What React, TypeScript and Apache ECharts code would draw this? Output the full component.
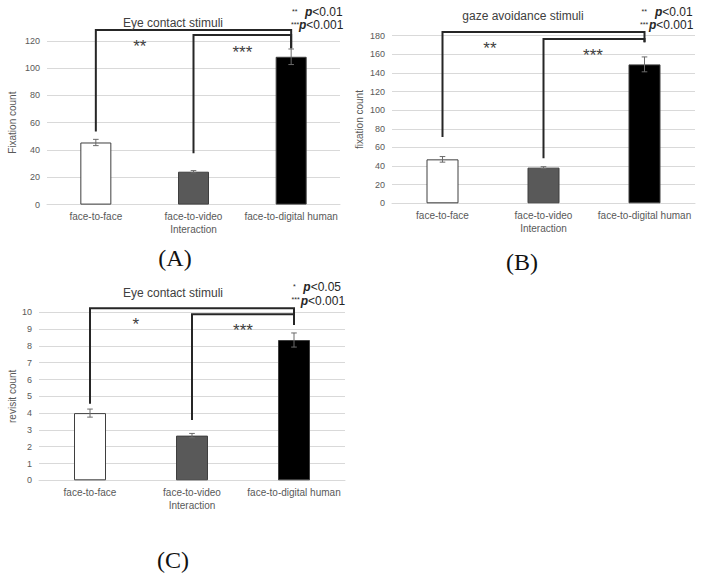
import React, { useEffect, useRef } from "react";
import * as echarts from "echarts";

// ---------- data ----------
const categories = ["face-to-face", "face-to-video", "face-to-digital human"];
const barColors = ["#ffffff", "#595959", "#000000"];

// (A) Eye contact stimuli – fixation count
const fixationEyeMean = [45.5, 24.1, 108.3];
const fixationEyeErr = [2.3, 0.8, 5.7];
// (B) gaze avoidance stimuli – fixation count
const fixationGazeMean = [47.2, 38.3, 149.2];
const fixationGazeErr = [3.0, 1.0, 8.0];
// (C) Eye contact stimuli – revisit count
const revisitEyeMean = [4.0, 2.66, 8.35];
const revisitEyeErr = [0.24, 0.13, 0.42];

// significance brackets: [fromCategory, toCategory, topValue, fromEndValue, toEndValue]
const bracketsA = [
  [0, 2, 128, 53.5, 114.5],
  [1, 2, 124.2, 37.6, 114.5],
];
const bracketsB = [
  [0, 2, 184, 71.2, 173],
  [1, 2, 176.4, 48.3, 173],
];
const bracketsC = [
  [0, 2, 10.24, 4.55, 9.24],
  [1, 2, 9.88, 3.59, 9.24],
];
// significance stars: [categoryPosition, value, label]
const starsA: [number, number, string][] = [
  [0.45, 119, "**"],
  [1.5, 114, "***"],
];
const starsB: [number, number, string][] = [
  [0.47, 171, "**"],
  [1.49, 162.5, "***"],
];
const starsC: [number, number, string][] = [
  [0.45, 9.54, "*"],
  [1.5, 9.14, "***"],
];

const FONT = "Liberation Sans";
const GRID_COLOR = "#d9d9d9";
const LABEL_COLOR = "#595959";

function bracketRender(params: any, api: any) {
  const from = api.value(0);
  const to = api.value(1);
  const top = api.value(2);
  const fromEnd = api.value(3);
  const toEnd = api.value(4);
  const a = api.coord([from, fromEnd]);
  const b = api.coord([from, top]);
  const c = api.coord([to, top]);
  const d = api.coord([to, toEnd]);
  return {
    type: "polyline",
    shape: { points: [a, b, c, d] },
    style: { stroke: "#262626", lineWidth: 2, fill: "none" },
  };
}

function errorRender(params: any, api: any) {
  const x = api.value(0);
  const m = api.value(1);
  const e = api.value(2);
  const hi = api.coord([x, m + e]);
  const lo = api.coord([x, m - e]);
  const cap = 2.8;
  const st = { stroke: "#6b6b6b", lineWidth: 1 };
  return {
    type: "group",
    children: [
      { type: "line", shape: { x1: hi[0], y1: hi[1], x2: lo[0], y2: lo[1] }, style: st },
      { type: "line", shape: { x1: hi[0] - cap, y1: hi[1], x2: hi[0] + cap, y2: hi[1] }, style: st },
      { type: "line", shape: { x1: lo[0] - cap, y1: lo[1], x2: lo[0] + cap, y2: lo[1] }, style: st },
    ],
  };
}

function starRender(params: any, api: any) {
  const pos = api.value(0);
  const val = api.value(1);
  const base = Math.floor(pos);
  const f = pos - base;
  const c0 = api.coord([base, val]);
  const c1 = api.coord([base + 1, val]);
  const x = c0[0] + (c1[0] - c0[0]) * f;
  return {
    type: "text",
    x,
    y: c0[1] + 4,
    style: {
      text: api.value(2),
      fontSize: 17,
      fontFamily: FONT,
      fill: "#404040",
      align: "center",
      verticalAlign: "middle",
    },
  };
}

function panel(
  idx: number,
  means: number[],
  errs: number[],
  brackets: number[][],
  stars: [number, number, string][],
  yName: string,
  yMax: number,
  yInterval: number,
  nameGapY: number,
  barWidth: number
) {
  const xAxis = {
    type: "category",
    gridIndex: idx,
    data: categories,
    axisTick: { show: false },
    axisLine: { lineStyle: { color: GRID_COLOR, width: 1 } },
    axisLabel: { fontSize: 10, color: LABEL_COLOR, fontFamily: FONT, margin: 7, interval: 0 },
    name: "Interaction",
    nameLocation: "middle",
    nameGap: 20,
    nameTextStyle: { fontSize: 10, color: LABEL_COLOR, fontFamily: FONT },
  };
  const yAxis = {
    type: "value",
    gridIndex: idx,
    min: 0,
    max: yMax,
    interval: yInterval,
    axisLine: { show: false },
    axisTick: { show: false },
    splitLine: { lineStyle: { color: GRID_COLOR, width: 1 } },
    axisLabel: { fontSize: 9, color: LABEL_COLOR, fontFamily: FONT, margin: 7 },
    name: yName,
    nameLocation: "middle",
    nameGap: nameGapY,
    nameTextStyle: { fontSize: 10, color: LABEL_COLOR, fontFamily: FONT },
  };
  const series = [
    {
      type: "bar",
      xAxisIndex: idx,
      yAxisIndex: idx,
      barWidth,
      data: means.map((v, i) => ({
        value: v,
        itemStyle: { color: barColors[i], borderColor: "#3f3f3f", borderWidth: 1 },
      })),
      z: 2,
    },
    {
      type: "custom",
      xAxisIndex: idx,
      yAxisIndex: idx,
      renderItem: errorRender,
      data: means.map((v, i) => [i, v, errs[i]]),
      encode: { x: 0, y: 1 },
      z: 3,
    },
    {
      type: "custom",
      xAxisIndex: idx,
      yAxisIndex: idx,
      renderItem: bracketRender,
      data: brackets,
      encode: { x: [0, 1], y: [2] },
      clip: false,
      z: 4,
    },
    {
      type: "custom",
      xAxisIndex: idx,
      yAxisIndex: idx,
      renderItem: starRender,
      data: stars,
      encode: { x: 0, y: 1 },
      clip: false,
      z: 4,
    },
  ];
  return { xAxis, yAxis, series };
}

function legendTexts(xStar1: number, xP1: number, y1: number, star1: string, p1: string, xStar2: number, xP2: number, y2: number) {
  const rich = {
    p: { fontStyle: "italic", fontWeight: "bold", fontSize: 12, fontFamily: FONT, fill: "#262626" },
    r: { fontSize: 12, fontFamily: FONT, fill: "#262626" },
  };
  return [
    { type: "text", x: xStar1, y: y1 - 1, style: { text: star1, fontSize: 7, fontFamily: FONT, fill: "#262626", verticalAlign: "middle" } },
    { type: "text", x: xP1, y: y1, style: { text: "{p|p}{r|" + p1 + "}", rich, verticalAlign: "middle" } },
    { type: "text", x: xStar2, y: y2 - 1, style: { text: "***", fontSize: 7, fontFamily: FONT, fill: "#262626", verticalAlign: "middle" } },
    { type: "text", x: xP2, y: y2, style: { text: "{p|p}{r|<0.001}", rich, verticalAlign: "middle" } },
  ];
}

export default function App() {
  const ref = useRef<HTMLDivElement>(null);
  useEffect(() => {
    if (!ref.current) return;
    const chart = echarts.init(ref.current, undefined, { renderer: "svg" });
    const a = panel(0, fixationEyeMean, fixationEyeErr, bracketsA, starsA, "Fixation count", 120, 20, 30, 31);
    const b = panel(1, fixationGazeMean, fixationGazeErr, bracketsB, starsB, "fixation count", 180, 20, 28, 32);
    const c = panel(2, revisitEyeMean, revisitEyeErr, bracketsC, starsC, "revisit count", 10, 1, 22, 32);
    const titleStyle = { fontSize: 12, fontWeight: "normal", color: "#404040", fontFamily: FONT };
    const option: any = {
      animation: false,
      backgroundColor: "#ffffff",
      title: [
        { text: "Eye contact stimuli", left: 173, top: 17, textAlign: "center", textStyle: titleStyle, padding: 0 },
        { text: "gaze avoidance stimuli", left: 523, top: 10, textAlign: "center", textStyle: titleStyle, padding: 0 },
        { text: "Eye contact stimuli", left: 173, top: 287, textAlign: "center", textStyle: titleStyle, padding: 0 },
      ],
      grid: [
        { left: 47, right: 363, top: 40.8, bottom: 371.4 },
        { left: 392, right: 8, top: 35.7, bottom: 372.7 },
        { left: 39, right: 358, top: 312.3, bottom: 95.7 },
      ],
      xAxis: [a.xAxis, b.xAxis, c.xAxis],
      yAxis: [a.yAxis, b.yAxis, c.yAxis],
      series: [...a.series, ...b.series, ...c.series],
      graphic: [
        ...legendTexts(292, 305, 12.3, "**", "<0.01", 291, 299, 25),
        ...legendTexts(641.5, 655, 12.3, "**", "<0.01", 640, 649, 25),
        ...legendTexts(293, 303.3, 287, "*", "<0.05", 291.5, 300.7, 300.7),
        { type: "text", x: 175, y: 258, style: { text: "(A)", fontSize: 24, fontFamily: "Liberation Serif", fill: "#111", align: "center", verticalAlign: "middle" } },
        { type: "text", x: 522, y: 262, style: { text: "(B)", fontSize: 24, fontFamily: "Liberation Serif", fill: "#111", align: "center", verticalAlign: "middle" } },
        { type: "text", x: 173, y: 560, style: { text: "(C)", fontSize: 24, fontFamily: "Liberation Serif", fill: "#111", align: "center", verticalAlign: "middle" } },
      ],
    };
    chart.setOption(option);
    return () => chart.dispose();
  }, []);
  return (
    <div
      ref={ref}
      style={{ position: "fixed", left: 0, top: 0, width: 703, height: 576, background: "#fff" }}
    />
  );
}
